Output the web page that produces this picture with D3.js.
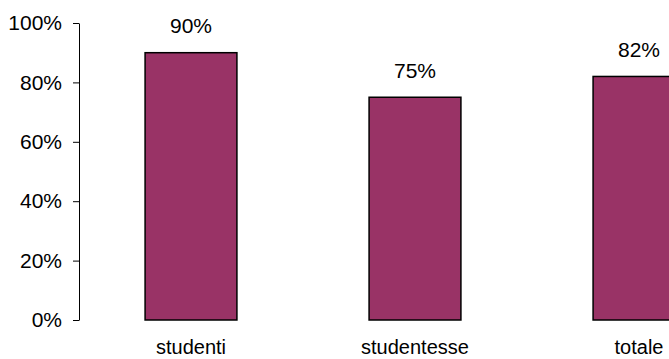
<!DOCTYPE html>
<html>
<head>
<meta charset="utf-8">
<script src="https://cdn.jsdelivr.net/npm/d3@7"></script>
<style>
  html, body { margin: 0; padding: 0; background: #fff; }
  svg { display: block; font-family: "Liberation Sans", Arial, sans-serif; }
</style>
</head>
<body>
<svg id="chart" width="669" height="359"></svg>
<script>
// Share of respondents by group
const categories = ["studenti", "studentesse", "totale"];
const values = [0.90, 0.75, 0.82];
const valueLabels = ["90%", "75%", "82%"];
const tickValues = [0, 0.2, 0.4, 0.6, 0.8, 1.0];

const svg = d3.select("#chart");
const axisX = 79, y0 = 320, y1 = 23;
const fontSize = 21;

const x = d3.scaleBand()
  .domain(categories)
  .range([axisX, axisX + 3 * 224])
  .paddingInner(0.59)
  .paddingOuter(0.295);

const y = d3.scaleLinear().domain([0, 1]).range([y0, y1]);

// Bars
svg.append("g").selectAll("rect")
  .data(categories)
  .join("rect")
  .attr("x", d => x(d))
  .attr("y", (d, i) => y(values[i]))
  .attr("width", x.bandwidth())
  .attr("height", (d, i) => y(0) - y(values[i]))
  .attr("fill", "#993366")
  .attr("stroke", "#000")
  .attr("stroke-width", 1.5);

// Value labels above bars
svg.append("g").selectAll("text")
  .data(categories)
  .join("text")
  .attr("x", d => x(d) + x.bandwidth() / 2)
  .attr("y", (d, i) => y(values[i]) - 19.5)
  .attr("text-anchor", "middle")
  .attr("font-size", fontSize)
  .attr("fill", "#000")
  .text((d, i) => valueLabels[i]);

// Y axis
const yAxis = d3.axisLeft(y)
  .tickValues(tickValues)
  .tickFormat(d3.format(".0%"))
  .tickSize(6)
  .tickPadding(11)
  .tickSizeOuter(0);

const gy = svg.append("g")
  .attr("transform", `translate(${axisX},0)`)
  .call(yAxis);
gy.select(".domain").attr("stroke", "#000").attr("stroke-width", 1);
gy.selectAll(".tick line").attr("stroke", "#000");
gy.selectAll(".tick text")
  .attr("font-size", fontSize)
  .attr("font-family", "Liberation Sans, Arial, sans-serif")
  .attr("fill", "#000");

// Category labels
svg.append("g").selectAll("text")
  .data(categories)
  .join("text")
  .attr("x", d => x(d) + x.bandwidth() / 2)
  .attr("y", y0 + 34)
  .attr("text-anchor", "middle")
  .attr("font-size", 20)
  .attr("fill", "#000")
  .text(d => d);
</script>
</body>
</html>
